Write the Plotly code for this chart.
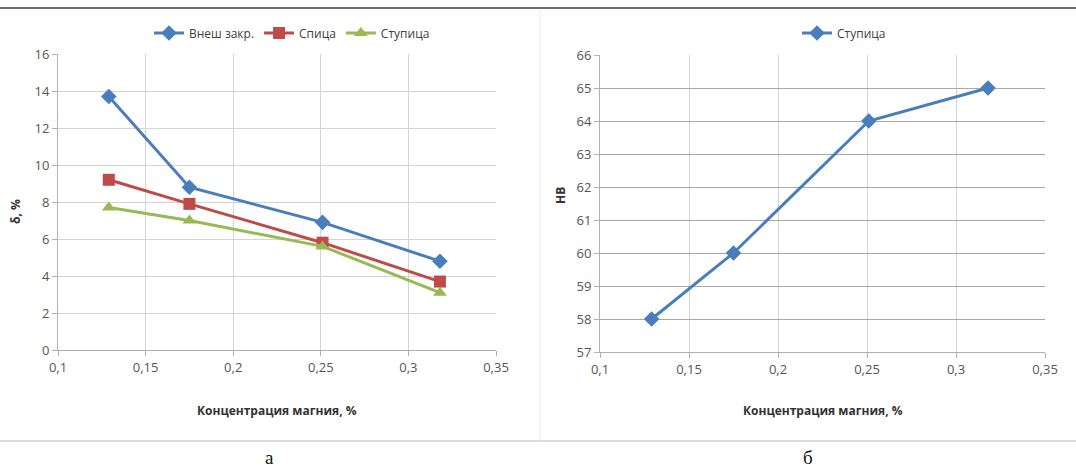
import plotly.graph_objects as go

# ---- data ----
mg_conc = [0.129, 0.175, 0.251, 0.318]
vnesh_zakr = [13.7, 8.8, 6.9, 4.8]
spitsa = [9.2, 7.9, 5.8, 3.7]
stupitsa = [7.7, 7.0, 5.6, 3.1]
hb_stupitsa = [58, 60, 64, 65]

x_ticks = [0.1, 0.15, 0.2, 0.25, 0.3, 0.35]
x_ticktext = ["0,1", "0,15", "0,2", "0,25", "0,3", "0,35"]
y1_ticks = [0, 2, 4, 6, 8, 10, 12, 14, 16]
y2_ticks = [57, 58, 59, 60, 61, 62, 63, 64, 65, 66]

BLUE = "#4a7ebb"
RED = "#be4b48"
GREEN = "#98b954"
W, H = 1076, 467

fig = go.Figure()
fig.add_trace(go.Scatter(x=mg_conc, y=vnesh_zakr, name="Внеш закр.", mode="lines+markers",
                         line=dict(color=BLUE, width=3),
                         marker=dict(symbol="diamond", size=12, color=BLUE),
                         xaxis="x", yaxis="y", legend="legend"))
fig.add_trace(go.Scatter(x=mg_conc, y=spitsa, name="Спица", mode="lines+markers",
                         line=dict(color=RED, width=3),
                         marker=dict(symbol="square", size=12, color=RED),
                         xaxis="x", yaxis="y", legend="legend"))
fig.add_trace(go.Scatter(x=mg_conc, y=stupitsa, name="Ступица", mode="lines+markers",
                         line=dict(color=GREEN, width=3),
                         marker=dict(symbol="triangle-up", size=12, color=GREEN),
                         xaxis="x", yaxis="y", legend="legend"))
fig.add_trace(go.Scatter(x=mg_conc, y=hb_stupitsa, name="Ступица", mode="lines+markers",
                         line=dict(color=BLUE, width=3),
                         marker=dict(symbol="diamond", size=12, color=BLUE),
                         xaxis="x2", yaxis="y2", legend="legend2"))

tickfont = dict(family="Open Sans, Liberation Sans, sans-serif", size=13, color="#555555")
common_x = dict(range=[0.1, 0.35], tickvals=x_ticks, ticktext=x_ticktext, showgrid=True,
                gridcolor="#d4d4d4", gridwidth=1, showline=True, linecolor="#b0b0b0",
                ticks="outside", ticklen=5, tickcolor="#b0b0b0", tickfont=tickfont,
                zeroline=False, fixedrange=True, automargin=False)

fig.update_layout(
    width=W, height=H,
    margin=dict(l=0, r=0, t=0, b=0, autoexpand=False),
    paper_bgcolor="white", plot_bgcolor="white",
    xaxis=dict(domain=[58 / W, 496 / W], anchor="y", **common_x),
    yaxis=dict(domain=[1 - 350 / H, 1 - 54 / H], anchor="x", range=[0, 16], tickvals=y1_ticks,
               showgrid=True, gridcolor="#d4d4d4", showline=True, linecolor="#b0b0b0",
               ticks="outside", ticklen=5, tickcolor="#b0b0b0", tickfont=tickfont,
               zeroline=False, automargin=False, fixedrange=True),
    xaxis2=dict(domain=[600 / W, 1045 / W], anchor="y2", **common_x),
    yaxis2=dict(domain=[1 - 352 / H, 1 - 55 / H], anchor="x2", range=[57, 66], tickvals=y2_ticks,
                showgrid=True, gridcolor="#a8a8a8", showline=True, linecolor="#b0b0b0",
                ticks="outside", ticklen=5, tickcolor="#b0b0b0", tickfont=tickfont,
                zeroline=False, automargin=False, fixedrange=True),
    legend=dict(orientation="h", x=292 / W, y=1 - 33 / H, xanchor="center", yanchor="middle",
                font=dict(family="Open Sans, sans-serif", size=12, color="#404040"),
                bgcolor="rgba(0,0,0,0)", itemwidth=30),
    legend2=dict(orientation="h", x=844 / W, y=1 - 33 / H, xanchor="center", yanchor="middle",
                 font=dict(family="Open Sans, sans-serif", size=12, color="#404040"),
                 bgcolor="rgba(0,0,0,0)", itemwidth=30),
    showlegend=True,
)

annos = [
    dict(text="<b>Концентрация магния, %</b>", x=(58 + 496) / 2 / W, y=1 - 410 / H,
         font=dict(family="Open Sans, sans-serif", size=12, color="#333333")),
    dict(text="<b>Концентрация магния, %</b>", x=(600 + 1045) / 2 / W, y=1 - 410 / H,
         font=dict(family="Open Sans, sans-serif", size=12, color="#333333")),
    dict(text="<b>δ, %</b>", x=15 / W, y=1 - 212 / H, textangle=-90,
         font=dict(family="Open Sans, sans-serif", size=12, color="#333333")),
    dict(text="<b>HB</b>", x=560 / W, y=1 - 196 / H, textangle=-90,
         font=dict(family="Open Sans, sans-serif", size=12, color="#333333")),
    dict(text="а", x=269 / W, y=1 - 457 / H,
         font=dict(family="Liberation Serif, serif", size=19, color="#111111")),
    dict(text="б", x=808 / W, y=1 - 457 / H,
         font=dict(family="Liberation Serif, serif", size=19, color="#111111")),
]
for a in annos:
    a.update(xref="paper", yref="paper", showarrow=False, xanchor="center", yanchor="middle")
fig.update_layout(annotations=annos)

fig.update_layout(shapes=[
    dict(type="line", xref="paper", yref="paper", x0=0, x1=1, y0=1 - 8 / H, y1=1 - 8 / H,
         line=dict(color="#6e6e6e", width=2)),
    dict(type="line", xref="paper", yref="paper", x0=0, x1=1, y0=1 - 441 / H, y1=1 - 441 / H,
         line=dict(color="#d0d0d0", width=1.5)),
    dict(type="line", xref="paper", yref="paper", x0=540 / W, x1=540 / W, y0=1 - 441 / H, y1=1 - 10 / H,
         line=dict(color="#ededed", width=1)),
])

fig.write_html("out.html", config={"displayModeBar": False},
               post_script="document.body.style.margin='0';document.body.style.overflow='hidden';")
